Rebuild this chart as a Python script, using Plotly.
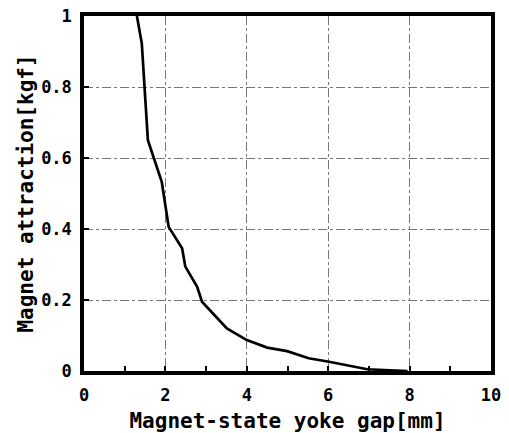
import plotly.graph_objects as go

gap_mm = [1.30, 1.42, 1.57, 1.71, 1.91, 2.08, 2.41, 2.49, 2.78, 2.90, 3.51, 4.0, 4.5, 4.99, 5.52, 6.02, 6.96, 7.95]
force_kgf = [1.0, 0.923, 0.65, 0.604, 0.533, 0.406, 0.346, 0.294, 0.237, 0.195, 0.12, 0.087, 0.066, 0.056, 0.036, 0.026, 0.005, 0.0]

x_ticks = [0, 2, 4, 6, 8, 10]
y_ticks = [0, 0.2, 0.4, 0.6, 0.8, 1]
y_tick_text = ["0", "0.2", "0.4", "0.6", "0.8", "1"]

fig = go.Figure()
fig.add_trace(go.Scatter(x=gap_mm, y=force_kgf, mode="lines",
                         line=dict(color="black", width=2.7), showlegend=False))

font_tick = dict(family="DejaVu Sans Mono", size=17, color="black", weight="bold")
font_title = dict(family="DejaVu Sans Mono", size=21, color="black", weight="bold")

fig.update_layout(
    width=509, height=433,
    margin=dict(l=84, r=18, t=16, b=62),
    paper_bgcolor="white", plot_bgcolor="white",
    xaxis=dict(range=[0, 10], tickvals=x_ticks, ticks="inside", ticklen=5, tickwidth=1.5,
               tickcolor="black", showline=True, linecolor="black", linewidth=3.5, mirror=True,
               showgrid=True, gridcolor="#777777", gridwidth=1, griddash="dashdot",
               zeroline=False, tickfont=font_tick, ticklabelstandoff=6, automargin=False,
               minor=dict(dtick=1, ticks="inside", ticklen=5, tickcolor="black", showgrid=False),
               title=dict(text="Magnet-state yoke gap[mm]", font=font_title, standoff=10)),
    yaxis=dict(range=[0, 1], tickvals=y_ticks, ticktext=y_tick_text, ticks="inside", ticklen=5,
               tickwidth=1.5, tickcolor="black", showline=True, linecolor="black", linewidth=3.5,
               mirror=True, showgrid=True, gridcolor="#777777", gridwidth=1, griddash="dashdot",
               zeroline=False, tickfont=font_tick, ticklabelstandoff=5, automargin=False,
               title=dict(text="Magnet attraction[kgf]", font=font_title, standoff=3)),
)

fig.write_html("out.html")
